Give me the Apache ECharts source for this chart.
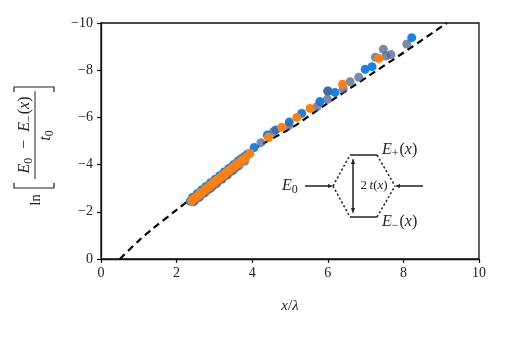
<!DOCTYPE html>
<html>
<head>
<meta charset="UTF-8">
<title>ln gap vs distance</title>
<script src="https://cdn.jsdelivr.net/npm/echarts@6/dist/echarts.min.js"></script>
<style>
  html, body { margin: 0; padding: 0; background: #fff; }
  #chart { width: 507px; height: 338px; }
</style>
</head>
<body>
<div id="chart"></div>
<script>
// dashed reference curve
var curveX = [0.5, 1.0, 1.38, 2.0, 2.22, 3.0, 4.0, 5.09, 5.88, 7.12, 8.0, 9.15];
var curveY = [0, -0.78, -1.30, -2.08, -2.36, -3.35, -4.6, -5.61, -6.48, -7.8, -8.74, -10];

// blue points
var blueX = [2.36, 2.42, 2.48, 2.54, 2.60, 2.66, 2.72, 2.78, 2.84, 2.90, 2.96, 3.02, 3.08, 3.14, 3.20, 3.26, 3.32, 3.38, 3.44, 3.50, 3.56, 3.62, 3.70, 3.78, 3.88, 4.05, 4.40, 4.62, 4.98, 5.31, 5.79, 6.00, 6.19, 6.99, 7.17, 8.22];
var blueY = [-2.45, -2.61, -2.49, -2.76, -2.64, -2.92, -2.80, -3.07, -2.95, -3.23, -3.10, -3.38, -3.26, -3.53, -3.41, -3.69, -3.56, -3.84, -3.72, -3.99, -3.87, -4.14, -4.24, -4.33, -4.45, -4.72, -5.25, -5.47, -5.80, -6.17, -6.67, -7.12, -7.06, -8.04, -8.15, -9.38];

// orange points
var orangeX = [2.40, 2.43, 2.46, 2.49, 2.52, 2.55, 2.58, 2.61, 2.64, 2.67, 2.70, 2.73, 2.76, 2.79, 2.82, 2.85, 2.88, 2.91, 2.94, 2.97, 3.00, 3.03, 3.06, 3.09, 3.12, 3.15, 3.18, 3.21, 3.24, 3.27, 3.30, 3.34, 3.38, 3.42, 3.46, 3.50, 3.55, 3.60, 3.65, 3.70, 3.74, 3.83, 3.94, 4.43, 4.78, 5.18, 5.53, 6.39, 7.35];
var orangeY = [-2.47, -2.52, -2.55, -2.60, -2.62, -2.67, -2.70, -2.75, -2.78, -2.83, -2.86, -2.90, -2.94, -2.98, -3.02, -3.05, -3.10, -3.13, -3.17, -3.21, -3.25, -3.29, -3.32, -3.37, -3.40, -3.44, -3.48, -3.52, -3.55, -3.60, -3.63, -3.69, -3.73, -3.79, -3.83, -3.89, -3.95, -4.01, -4.08, -4.14, -4.19, -4.30, -4.48, -5.16, -5.58, -6.00, -6.38, -7.40, -8.50];

// grey points (semi-transparent)
var greyX = [2.45, 2.60, 2.75, 2.90, 3.05, 3.20, 3.35, 3.50, 3.65, 3.80, 4.23, 4.56, 4.96, 5.71, 5.99, 6.00, 6.41, 6.59, 6.82, 7.26, 7.47, 7.54, 7.67, 8.09];
var greyY = [-2.42, -2.61, -2.80, -3.00, -3.19, -3.38, -3.57, -3.76, -3.95, -4.14, -4.93, -5.39, -5.64, -6.45, -6.77, -7.12, -7.20, -7.51, -7.70, -8.55, -8.89, -8.60, -8.66, -9.11];

var xTicks = [0, 2, 4, 6, 8, 10];
var yTicks = [0, -2, -4, -6, -8, -10];

function pairs(xs, ys) {
  var out = [];
  for (var i = 0; i < xs.length; i++) out.push([xs[i], ys[i]]);
  return out;
}

var serif = 'Liberation Serif';
var ink = '#222';
function richSet(size) {
  var sub = Math.round(size * 0.72);
  return {
    i: { fontStyle: 'italic', fontFamily: serif, fontSize: size, color: ink, fill: ink },
    s: { fontFamily: serif, fontSize: sub, color: ink, fill: ink, padding: [Math.round(size * 0.45), 1, 0, 0] }
  };
}

var myChart = echarts.init(document.getElementById('chart'), null, { renderer: 'canvas' });

// small helpers for the level diagram
function seg(x1, y1, x2, y2, dashed) {
  return {
    type: 'line', silent: true, z: 20,
    shape: { x1: x1, y1: y1, x2: x2, y2: y2 },
    style: { stroke: ink, lineWidth: 1.5, lineDash: dashed ? [2.2, 2.2] : null }
  };
}
function head(pts) {
  return { type: 'polygon', silent: true, z: 20, shape: { points: pts }, style: { fill: ink } };
}
function label(x, y, txt, align, size) {
  size = size || 16;
  return {
    type: 'text', silent: true, z: 20, x: x, y: y,
    style: {
      text: txt, fontFamily: serif, fontSize: size, fill: ink,
      align: align || 'left', verticalAlign: 'middle',
      rich: richSet(size)
    }
  };
}

var option = {
  animation: false,
  grid: { left: 101, right: 28, top: 23, bottom: 79 },
  xAxis: {
    type: 'value', min: 0, max: 10, interval: 2,
    name: '{i|x}/{i|λ}', nameLocation: 'middle', nameGap: 40,
    nameTextStyle: { fontFamily: serif, fontSize: 15, color: ink, rich: richSet(15) },
    axisLine: { show: true, onZero: false, lineStyle: { color: '#111', width: 1.3 } },
    axisTick: { show: true, length: 4, lineStyle: { color: '#111', width: 1.2 } },
    axisLabel: { fontFamily: serif, fontSize: 14, color: ink, margin: 7 },
    splitLine: { show: false }
  },
  yAxis: {
    type: 'value', min: -10, max: 0, interval: 2, inverse: true,
    axisLine: { show: true, onZero: false, lineStyle: { color: '#111', width: 1.3 } },
    axisTick: { show: true, length: 4, lineStyle: { color: '#111', width: 1.2 } },
    axisLabel: {
      fontFamily: serif, fontSize: 14, color: ink, margin: 8,
      formatter: function (v) { return String(v).replace('-', '\u2212'); }
    },
    splitLine: { show: false }
  },
  graphic: [
    // frame top / right
    {
      type: 'rect', silent: true, z: 5,
      shape: { x: 101, y: 23, width: 378, height: 236 },
      style: { fill: 'none', stroke: '#111', lineWidth: 1.3 }
    },
    // y axis title, rotated
    {
      type: 'group', x: 35, y: 148, rotation: Math.PI / 2, silent: true,
      children: [
        { type: 'text', x: -52, y: 1, style: { text: 'ln', fontFamily: serif, fontSize: 15, fill: ink, align: 'center', verticalAlign: 'middle' } },
        { type: 'polyline', shape: { points: [[-35, -21], [-40, -21], [-40, 19], [-35, 19]] }, style: { stroke: ink, lineWidth: 1.2, fill: null } },
        { type: 'text', x: 13, y: -10, style: { text: '{i|E}{s|0}\u2002−\u2002{i|E}{s|−}({i|x})', fontFamily: serif, fontSize: 16, fill: ink, align: 'center', verticalAlign: 'middle', rich: richSet(16) } },
        { type: 'line', shape: { x1: -31, y1: 0, x2: 57, y2: 0 }, style: { stroke: ink, lineWidth: 1 } },
        { type: 'text', x: 13, y: 11, style: { text: '{i|t}{s|0}', fontFamily: serif, fontSize: 16, fill: ink, align: 'center', verticalAlign: 'middle', rich: richSet(16) } },
        { type: 'polyline', shape: { points: [[56, -21], [61, -21], [61, 19], [56, 19]] }, style: { stroke: ink, lineWidth: 1.2, fill: null } }
      ]
    },
    // level diagram
    label(282, 186, '{i|E}{s|0}', 'left'),
    seg(305, 186, 331, 186),
    head([[333, 186], [328, 184], [328, 188]]),
    seg(333, 186, 350, 155, true),
    seg(333, 186, 350, 217, true),
    seg(350, 155, 377, 155),
    seg(350, 217, 377, 217),
    seg(377, 155, 395, 186, true),
    seg(377, 217, 395, 186, true),
    seg(397, 186, 423, 186),
    head([[395, 186], [400, 184], [400, 188]]),
    seg(353, 162, 353, 210),
    head([[353, 158], [351, 164], [355, 164]]),
    head([[353, 214], [351, 208], [355, 208]]),
    label(374, 186, '2\u2009{i|t}({i|x})', 'center', 13),
    label(382, 150, '{i|E}{s|+}({i|x})', 'left'),
    label(382, 222, '{i|E}{s|−}({i|x})', 'left')
  ],
  series: [
    {
      type: 'line', data: pairs(curveX, curveY), showSymbol: false, smooth: 0.3, z: 1,
      lineStyle: { color: '#000', width: 2.2, type: [7, 4.5] }
    },
    {
      type: 'scatter', data: pairs(blueX, blueY), symbolSize: 9, z: 2,
      itemStyle: { color: '#1584e6', opacity: 1 }
    },
    {
      type: 'scatter', data: pairs(greyX, greyY), symbolSize: 9, z: 3,
      itemStyle: { color: 'rgba(80,100,145,0.75)', opacity: 1 }
    },
    {
      type: 'scatter', data: pairs(orangeX, orangeY), symbolSize: 9, z: 4,
      itemStyle: { color: '#ff800e', opacity: 1 }
    }
  ]
};

myChart.setOption(option);
</script>
</body>
</html>
